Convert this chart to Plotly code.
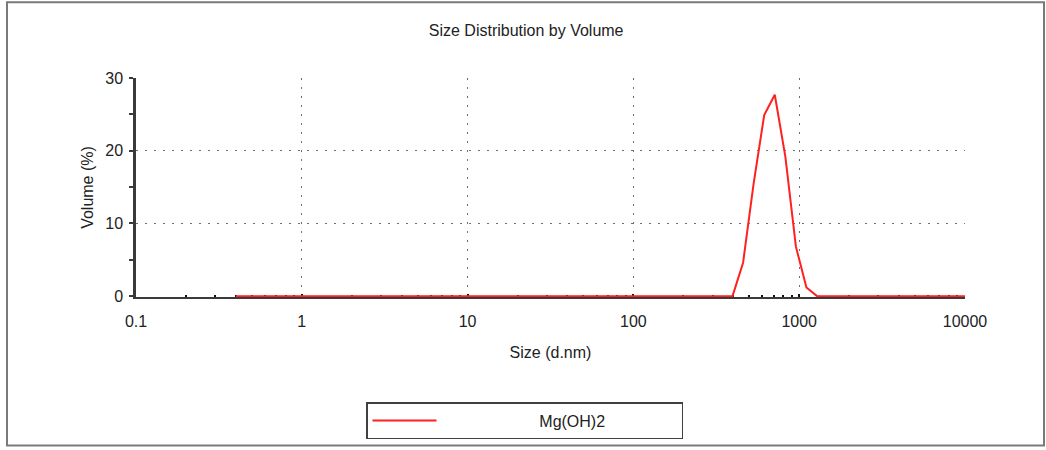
import plotly.graph_objects as go

# Data (Zetasizer size classes, d.nm) and volume %
size_nm = [0.4000, 0.4632, 0.5365, 0.6213, 0.7195, 0.8332, 0.9649,
           1.117, 1.294, 1.499, 1.736, 2.010, 2.328, 2.696, 3.122, 3.615,
           4.187, 4.849, 5.615, 6.503, 7.531, 8.721,
           10.10, 11.70, 13.54, 15.69, 18.17, 21.04, 24.36, 28.21, 32.67,
           37.84, 43.82, 50.75, 58.77, 68.06, 78.82, 91.28,
           105.7, 122.4, 141.8, 164.2, 190.1, 220.2, 255.0, 295.3, 342.0,
           396.1, 458.7, 531.2, 615.1, 712.4, 825.0, 955.4,
           1106, 1281, 1484, 1718, 1990, 2305, 2669, 3091, 3580, 4145,
           4801, 5560, 6439, 7456, 8635, 10000]
volume_pct = [0, 0, 0, 0, 0, 0, 0,
              0, 0, 0, 0, 0, 0, 0, 0, 0,
              0, 0, 0, 0, 0, 0,
              0, 0, 0, 0, 0, 0, 0, 0, 0,
              0, 0, 0, 0, 0, 0, 0,
              0, 0, 0, 0, 0, 0, 0, 0, 0,
              0, 4.6, 15.5, 24.9, 27.7, 19.2, 6.8,
              1.2, 0, 0, 0, 0, 0, 0, 0, 0, 0,
              0, 0, 0, 0, 0, 0]
series_name = "Mg(OH)2"

x_tickvals = [0.1, 1, 10, 100, 1000, 10000]
x_ticktext = ["0.1", "1", "10", "100", "1000", "10000"]
x_minor_vals = [m * 10 ** e for e in range(-1, 4) for m in range(2, 10)]
y_tickvals = [0, 10, 20, 30]
y_ticktext = ["0", "10", "20", "30"]
y_range = [-0.12, 30]

FONT = "Liberation Sans, Arial, sans-serif"
AXC = "#3a3a3a"
GRIDC = "#707070"

W, H = 1046, 450
# target pixel geometry: x 136..965, y(30)=78, y(0)=297
X0, X1, YTOP, YZERO = 136, 965, 78, 297
pix_per_unit = (YZERO - YTOP) / (y_range[1] - 0)
plot_bottom = YZERO + (0 - y_range[0]) * pix_per_unit
L, R, T = X0, W - X1, YTOP
B = H - plot_bottom
pw, ph = W - L - R, plot_bottom - T

def px(xp):
    return (xp - L) / pw

def py(yp):
    return (plot_bottom - yp) / ph

fig = go.Figure()
fig.add_trace(go.Scatter(
    x=size_nm, y=volume_pct, mode="lines",
    line=dict(color="#ff2020", width=2),
    name="\u00a0" * 22 + series_name + "\u00a0" * 16,
    cliponaxis=False,
))

fig.update_layout(
    width=W, height=H,
    margin=dict(l=L, r=R, t=T, b=B, pad=0),
    paper_bgcolor="white", plot_bgcolor="white",
    font=dict(family=FONT, size=16, color="#222"),
    title=dict(text="Size Distribution by Volume", xref="container", x=0.503,
               y=1 - 30 / H, xanchor="center", yanchor="middle",
               font=dict(size=16, family=FONT, color="#222")),
    showlegend=True,
    legend=dict(x=px(366), y=py(402), xanchor="left", yanchor="top",
                bordercolor="#404040", borderwidth=1.5, bgcolor="white",
                itemwidth=64, font=dict(size=16, family=FONT, color="#222"),
                tracegroupgap=0),
    xaxis=dict(
        type="log", range=[-1, 4],
        tickmode="array", tickvals=x_tickvals, ticktext=x_ticktext,
        ticks="inside", ticklen=3, tickwidth=2, tickcolor="#111",
        showline=True, linecolor=AXC, linewidth=2,
        showgrid=True, gridcolor=GRIDC, gridwidth=1.2, griddash="2px,7px",
        zeroline=False, layer="below traces",
        ticklabelstandoff=9,
        minor=dict(tickmode="array", tickvals=x_minor_vals, ticks="inside",
                   ticklen=2, tickwidth=2, tickcolor="#111", showgrid=False),
        title=dict(text="Size (d.nm)", standoff=18,
                   font=dict(size=16, family=FONT, color="#222")),
        automargin=False,
    ),
    yaxis=dict(
        range=y_range,
        tickmode="array", tickvals=y_tickvals, ticktext=y_ticktext,
        ticks="outside", ticklen=4, tickwidth=2, tickcolor=AXC,
        showline=True, linecolor=AXC, linewidth=2.5,
        showgrid=True, gridcolor=GRIDC, gridwidth=1.2, griddash="2px,7px",
        zeroline=False, layer="below traces",
        ticklabelstandoff=3,
        minor=dict(tickmode="array", tickvals=[5, 15, 25], ticks="outside",
                   ticklen=4, tickwidth=2, tickcolor=AXC, showgrid=False),
        title=dict(text="Volume (%)", standoff=8,
                   font=dict(size=16, family=FONT, color="#222")),
        automargin=False,
    ),
    shapes=[dict(type="rect", xref="paper", yref="paper",
                 x0=px(7), x1=px(1044), y0=py(447), y1=py(2),
                 line=dict(color="#7a7a7a", width=2), layer="below")],
)

fig.write_html("out.html")
